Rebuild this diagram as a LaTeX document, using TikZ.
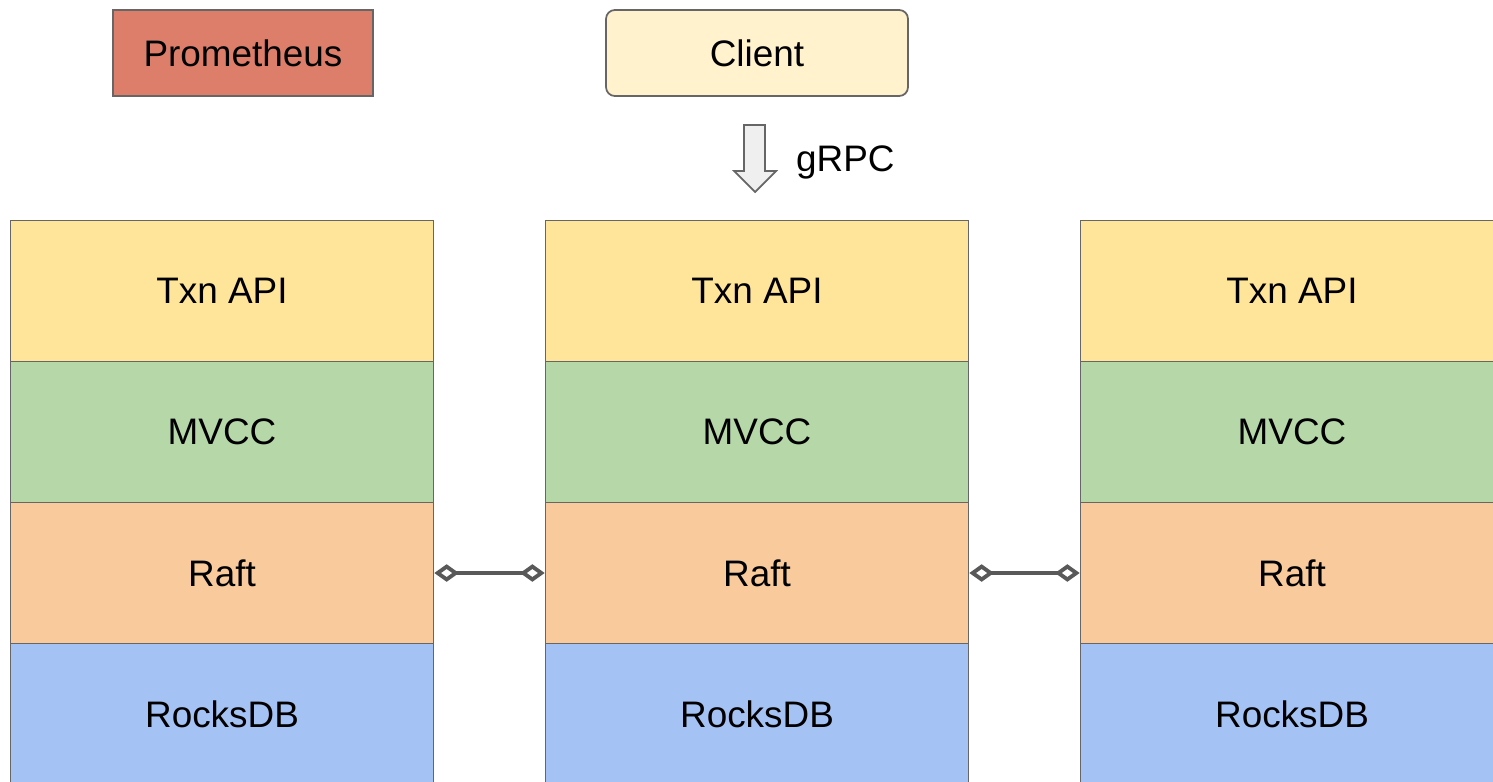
\documentclass[tikz,border=0pt]{standalone}
\usepackage{fontspec}
\setmainfont{Liberation Sans}
\usepackage{tikz}
\usetikzlibrary{arrows.meta,positioning}
\definecolor{edge}{HTML}{666666}
\definecolor{link}{HTML}{595959}
\definecolor{txn}{HTML}{FFE599}
\definecolor{mvcc}{HTML}{B6D7A8}
\definecolor{raft}{HTML}{F9CB9C}
\definecolor{rocks}{HTML}{A4C2F4}
\definecolor{prom}{HTML}{DD7E6B}
\definecolor{client}{HTML}{FFF2CC}
\definecolor{grpc}{HTML}{EFEFEF}

\begin{document}
\begin{tikzpicture}[x=0.02cm,y=-0.02cm,font=\fontsize{21}{25}\selectfont,
  layer/.style={draw=edge,line width=1pt,minimum width=8.46cm,minimum height=2.82cm,inner sep=0pt},
  topbox/.style={draw=edge,line width=1pt,minimum height=1.72cm,inner sep=0pt},
  peer/.style={draw=link,line width=2.2pt,{Diamond[open,length=14pt,width=10pt]}-{Diamond[open,length=14pt,width=10pt]}}]
 \useasboundingbox (0,0) rectangle (1493,781);
 % top row
 \node[topbox,fill=prom,minimum width=5.2cm] (prometheus) at (243,53){Prometheus};
 \node[topbox,fill=client,minimum width=6.04cm,rounded corners=5pt] (client) at (757,53){Client};
 \draw[draw=edge,line width=1pt,fill=grpc] (744,125)--(765,125)--(765,171)--(776,171)--(755,192)--(734,171)--(744,171)--cycle;
 \node[anchor=west] (grpc) at (790,162){gRPC};
 % store columns
 \foreach \x/\n in {222/a, 757/b, 1292/c}{
   \node[layer,fill=txn] (txn-\n) at (\x,291){Txn API};
   \node[layer,fill=mvcc] (mvcc-\n) at (\x,432){MVCC};
   \node[layer,fill=raft] (raft-\n) at (\x,573){Raft};
   \node[layer,fill=rocks] (rocks-\n) at (\x,714){RocksDB};
 }
 % raft peers
 \draw[peer] (raft-a.east) -- (raft-b.west);
 \draw[peer] (raft-b.east) -- (raft-c.west);
\end{tikzpicture}
\end{document}
